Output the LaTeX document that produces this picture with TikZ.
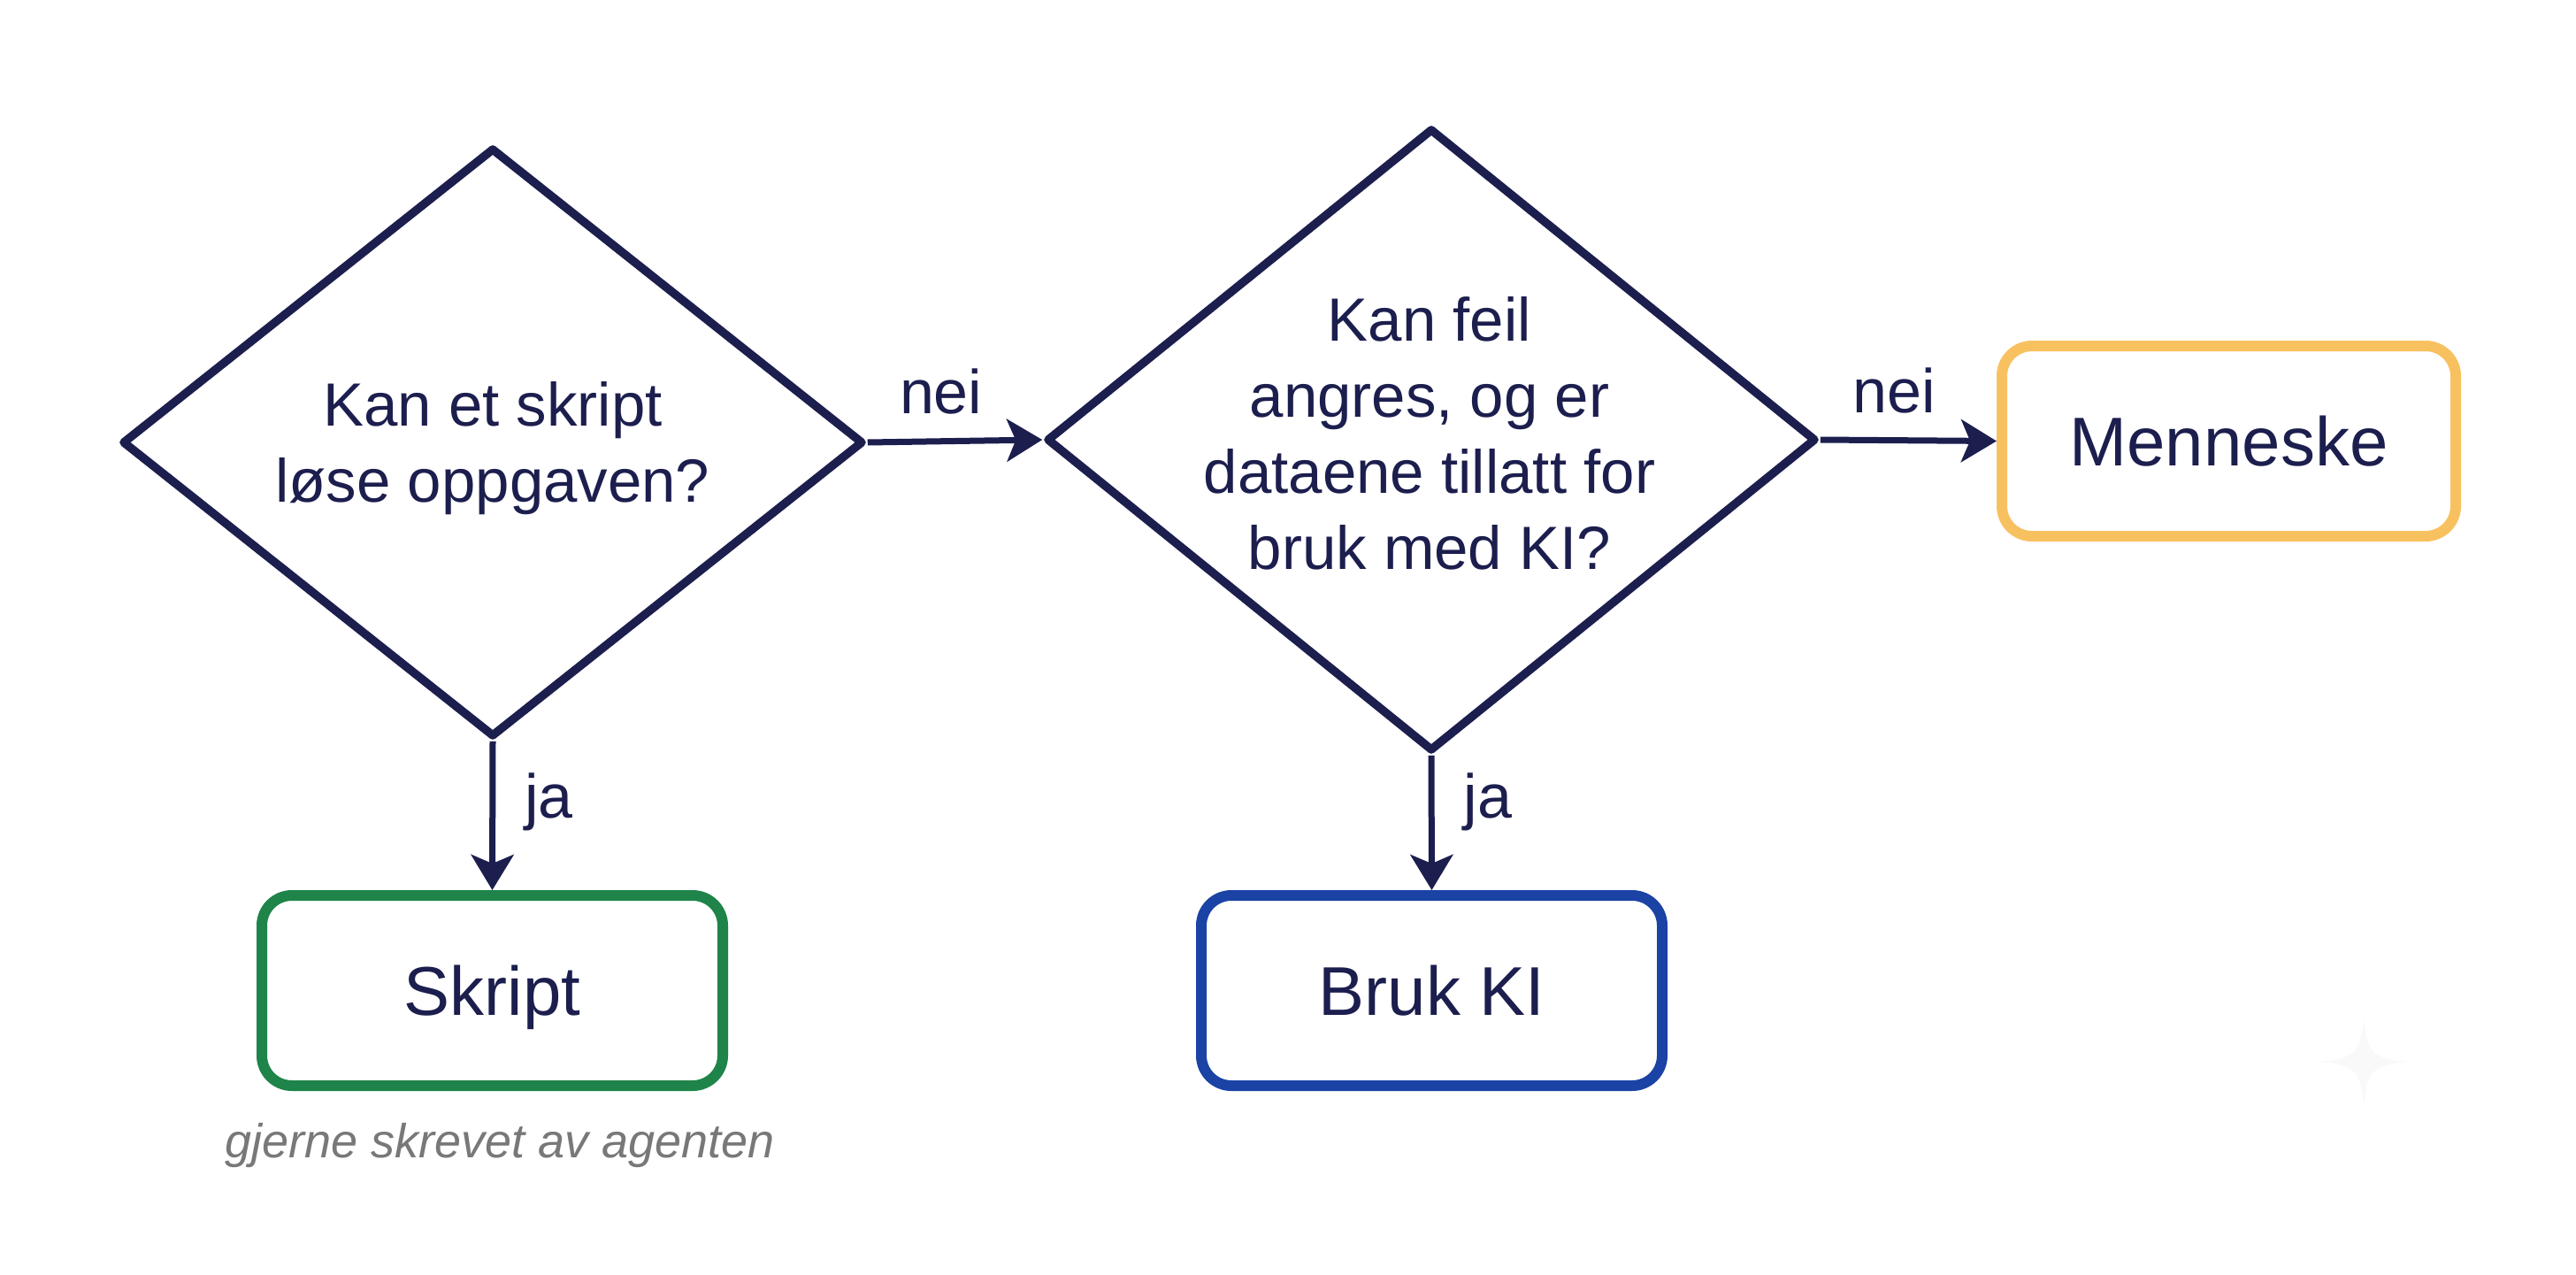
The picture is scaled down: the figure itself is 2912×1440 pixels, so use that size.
\documentclass[tikz,border=0pt]{standalone}
\usepackage{fontspec}
\setmainfont{Liberation Sans}
\usetikzlibrary{shapes.geometric,arrows.meta}
\definecolor{navy}{RGB}{28,30,78}
\definecolor{skgreen}{RGB}{30,132,73}
\definecolor{kiblue}{RGB}{27,67,166}
\definecolor{mnyellow}{RGB}{248,193,96}
\definecolor{capgray}{RGB}{120,120,120}
\definecolor{starfill}{RGB}{249,249,250}
\begin{document}
\begin{tikzpicture}[x=1pt,y=-1pt,
  decision/.style={shape=diamond, draw=navy, line width=9.5pt, line join=round, inner sep=0pt},
  qtext/.style={text=navy, align=center, inner sep=0pt, font=\fontsize{69}{86}\selectfont},
  outcome/.style={rectangle, rounded corners=34pt, line width=12pt, minimum height=215pt, text=navy, font=\fontsize{78}{90}\selectfont, text depth=0pt},
  arr/.style={draw=navy, line width=7pt, -{Stealth[length=40pt,width=48pt,inset=10pt]}},
  lbl/.style={text=navy, font=\fontsize{70}{80}\selectfont, inner sep=0pt},
  capt/.style={text=capgray, font=\itshape\fontsize{54}{60}\selectfont, inner sep=0pt},
]
\useasboundingbox (0,0) rectangle (2912,1440);
\fill[white] (0,0) rectangle (2912,1440);

% decisions
\node[decision, minimum width=838pt, minimum height=666pt] (d1) at (557,500) {};
\node[qtext] (q1) at (557,507) {Kan et skript\\løse oppgaven?};
\node[decision, minimum width=870pt, minimum height=704pt] (d2) at (1618,497) {};
\node[qtext] (q2) at (1616,490) {Kan feil\\angres, og er\\dataene tillatt for\\bruk med KI?};

% outcomes
\node[outcome, draw=skgreen, minimum width=521pt] (s) at (556.5,1119.5) {Skript};
\node[outcome, draw=kiblue, minimum width=521pt] (k) at (1618.5,1119.5) {Bruk KI};
\node[outcome, draw=mnyellow, minimum width=513pt] (m) at (2519.5,498.5) {Menneske};
\node[capt, anchor=base] (c) at (565,1308) {gjerne skrevet av agenten};

% connectors
\draw[arr] (d1.east) -- node[lbl, pos=0.42, anchor=base, yshift=31pt] (n1) {nei} (d2.west);
\draw[arr] (d2.east) -- node[lbl, pos=0.42, anchor=base, yshift=31pt] (n2) {nei} (m.west);
\draw[arr] (d1.south) -- node[lbl, pos=0.5, anchor=base west, xshift=33pt, yshift=-3pt] (j1) {ja} (s.north);
\draw[arr] (d2.south) -- node[lbl, pos=0.5, anchor=base west, xshift=33pt, yshift=5pt] (j2) {ja} (k.north);

% faint sparkle mark
\path[fill=starfill] (2672,1152) .. controls (2676,1190) and (2682,1196) .. (2720,1200) .. controls (2682,1204) and (2676,1210) .. (2672,1248) .. controls (2668,1210) and (2662,1204) .. (2624,1200) .. controls (2662,1196) and (2668,1190) .. (2672,1152) -- cycle;
\end{tikzpicture}
\end{document}
